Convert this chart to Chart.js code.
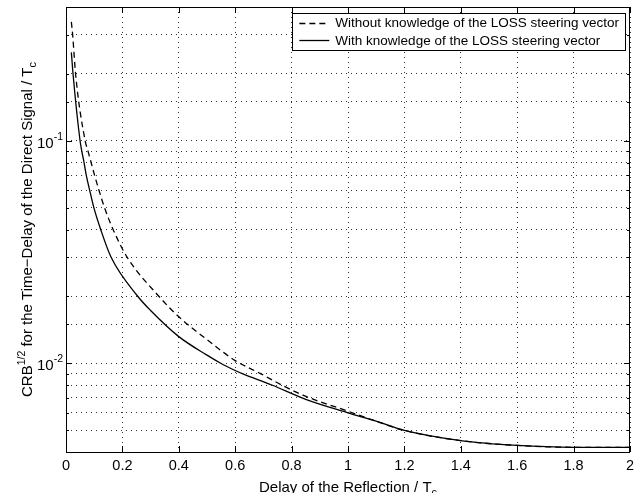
<!DOCTYPE html>
<html>
<head>
<meta charset="utf-8">
<script src="https://cdn.jsdelivr.net/npm/chart.js@4.4.0/dist/chart.umd.min.js"></script>
<style>
  html, body { margin: 0; padding: 0; background: #fff; }
  #wrap { width: 642px; height: 493px; }
</style>
</head>
<body>
<div id="wrap"><canvas id="crbChart" width="642" height="493"></canvas></div>
<script>
// series (x = delay of reflection / Tc, y = CRB^1/2 / Tc)
const delayNoKnow = [0.019, 0.0236, 0.034, 0.068, 0.078, 0.089, 0.1015, 0.117, 0.137, 0.167, 0.217, 0.33, 0.4, 0.5, 0.6, 0.69, 0.765, 0.84, 1.0, 1.1, 1.2, 1.4, 1.6, 1.8, 2.0];
const crbNoKnow = [0.343, 0.3, 0.2, 0.1, 0.09, 0.08, 0.07, 0.06, 0.05, 0.04, 0.03, 0.02, 0.0162, 0.0128, 0.0103, 0.009, 0.008, 0.0072, 0.0061, 0.0055, 0.005, 0.0045, 0.00428, 0.0042, 0.0042];
const delayKnow = [0.019, 0.025, 0.05, 0.056, 0.064, 0.072, 0.084, 0.099, 0.123, 0.16, 0.255, 0.3, 0.4, 0.5, 0.55, 0.6, 0.625, 0.73, 0.85, 1.0, 1.1, 1.2, 1.4, 1.6, 1.8, 2.0];
const crbKnow = [0.25, 0.2, 0.1, 0.09, 0.08, 0.07, 0.06, 0.05, 0.04, 0.03, 0.02, 0.0173, 0.0132, 0.0109, 0.01, 0.0093, 0.009, 0.008, 0.0069, 0.006, 0.0055, 0.005, 0.0045, 0.00428, 0.0042, 0.0042];

const seriesLabels = ['Without knowledge of the LOSS steering vector', 'With knowledge of the LOSS steering vector'];
const xTickLabels = ['0', '0.2', '0.4', '0.6', '0.8', '1', '1.2', '1.4', '1.6', '1.8', '2'];
const yDecadeExponents = [-2, -1];

const fam = "'Liberation Sans', Arial, Helvetica, sans-serif";
Chart.defaults.font.family = fam;
Chart.defaults.color = '#000';

const toPoints = (xs, ys) => xs.map((x, i) => ({ x: x, y: ys[i] }));

// draw text made of pieces (normal / super / sub) starting at x
function drawPieces(ctx, pieces, x, y) {
  pieces.forEach(p => {
    ctx.font = p.size + 'px ' + fam;
    ctx.fillText(p.t, x, y + (p.dy || 0));
    x += ctx.measureText(p.t).width;
  });
}
function piecesWidth(ctx, pieces) {
  let w = 0;
  pieces.forEach(p => {
    ctx.font = p.size + 'px ' + fam;
    w += ctx.measureText(p.t).width;
  });
  return w;
}

const matlabDecor = {
  id: 'matlabDecor',
  afterDraw(chart) {
    const ctx = chart.ctx;
    const a = chart.chartArea;
    const xs = chart.scales.x, ys = chart.scales.y;
    ctx.save();

    // frame
    ctx.strokeStyle = '#000';
    ctx.lineWidth = 1;
    ctx.setLineDash([]);
    ctx.strokeRect(Math.round(a.left) + 0.5, Math.round(a.top) + 0.5, Math.round(a.right - a.left) - 1, Math.round(a.bottom - a.top));

    // inward tick marks
    ctx.beginPath();
    xs.ticks.forEach(t => {
      const px = Math.round(xs.getPixelForValue(t.value)) + 0.5;
      ctx.moveTo(px, a.bottom); ctx.lineTo(px, a.bottom - 6);
      ctx.moveTo(px, a.top); ctx.lineTo(px, a.top + 6);
    });
    ys.ticks.forEach(t => {
      const py = Math.round(ys.getPixelForValue(t.value)) + 0.5;
      const e = Math.log10(t.value);
      const len = Math.abs(e - Math.round(e)) < 1e-6 ? 6 : 3;
      ctx.moveTo(a.left, py); ctx.lineTo(a.left + len, py);
      ctx.moveTo(a.right, py); ctx.lineTo(a.right - len, py);
    });
    ctx.stroke();

    // y decade labels 10^-n
    ctx.fillStyle = '#000';
    ctx.textBaseline = 'alphabetic';
    ctx.textAlign = 'left';
    yDecadeExponents.forEach(e => {
      const py = ys.getPixelForValue(Math.pow(10, e));
      const pieces = [{ t: '10', size: 15 }, { t: '-' + Math.abs(e), size: 10.5, dy: -8 }];
      const w = piecesWidth(ctx, pieces);
      drawPieces(ctx, pieces, a.left - 3 - w, py + 7);
    });

    // x title
    const xt = [{ t: 'Delay of the Reflection / T', size: 15 }, { t: 'c', size: 11, dy: 4 }];
    const xw = piecesWidth(ctx, xt);
    drawPieces(ctx, xt, (a.left + a.right) / 2 - xw / 2, 492);

    // y title (rotated)
    const yt = [
      { t: 'CRB', size: 15 },
      { t: '1/2', size: 10.5, dy: -7 },
      { t: ' for the Time\u2212Delay of the Direct Signal / T', size: 15 },
      { t: 'c', size: 11, dy: 4 }
    ];
    const yw = piecesWidth(ctx, yt);
    ctx.save();
    ctx.translate(32, (a.top + a.bottom) / 2);
    ctx.rotate(-Math.PI / 2);
    drawPieces(ctx, yt, -yw / 2, 0);
    ctx.restore();

    // legend box inside the axes
    ctx.font = '13.5px ' + fam;
    const textW = Math.max(...chart.data.datasets.map(d => ctx.measureText(d.label).width));
    const boxR = a.right - 5, boxT = a.top + 6;
    const boxW = textW + 49, boxH = 37;
    const boxL = boxR - boxW;
    ctx.fillStyle = '#fff';
    ctx.fillRect(boxL, boxT, boxW, boxH);
    ctx.strokeStyle = '#000';
    ctx.lineWidth = 1;
    ctx.strokeRect(Math.round(boxL) + 0.5, Math.round(boxT) + 0.5, Math.round(boxW), Math.round(boxH));
    chart.data.datasets.forEach((d, i) => {
      const cy = boxT + 9.5 + i * 17.5;
      ctx.beginPath();
      ctx.setLineDash(d.borderDash || []);
      ctx.lineWidth = d.borderWidth;
      ctx.strokeStyle = d.borderColor;
      ctx.moveTo(boxL + 7, Math.round(cy) + 0.5);
      ctx.lineTo(boxL + 37, Math.round(cy) + 0.5);
      ctx.stroke();
      ctx.setLineDash([]);
      ctx.fillStyle = '#000';
      ctx.textBaseline = 'middle';
      ctx.fillText(d.label, boxL + 43, cy + 1);
    });

    ctx.restore();
  }
};

new Chart(document.getElementById('crbChart'), {
  type: 'line',
  data: {
    datasets: [
      {
        label: seriesLabels[0],
        data: toPoints(delayNoKnow, crbNoKnow),
        borderColor: '#000',
        borderWidth: 1.3,
        borderDash: [6, 4],
        pointRadius: 0,
        cubicInterpolationMode: 'monotone',
        fill: false
      },
      {
        label: seriesLabels[1],
        data: toPoints(delayKnow, crbKnow),
        borderColor: '#000',
        borderWidth: 1.3,
        pointRadius: 0,
        cubicInterpolationMode: 'monotone',
        fill: false
      }
    ]
  },
  options: {
    responsive: false,
    animation: false,
    devicePixelRatio: 1,
    layout: { padding: { top: 7, right: 12, left: 0, bottom: 0 } },
    plugins: {
      legend: { display: false },
      tooltip: { enabled: false }
    },
    scales: {
      x: {
        type: 'linear',
        min: 0,
        max: 2,
        afterFit: (s) => { s.height = 41; },
        ticks: {
          stepSize: 0.2,
          padding: 5,
          maxRotation: 0,
          autoSkip: false,
          font: { size: 14.5 },
          callback: (v) => xTickLabels[Math.round(v / 0.2)]
        },
        grid: { color: '#333', lineWidth: 1, drawTicks: false },
        border: { display: false, dash: [1, 4] }
      },
      y: {
        type: 'logarithmic',
        min: 0.004,
        max: 0.4,
        afterFit: (s) => { s.width = 66; },
        ticks: { display: false, autoSkip: false },
        grid: { color: '#333', lineWidth: 1, drawTicks: false },
        border: { display: false, dash: [1, 4] }
      }
    }
  },
  plugins: [matlabDecor]
});
</script>
</body>
</html>
